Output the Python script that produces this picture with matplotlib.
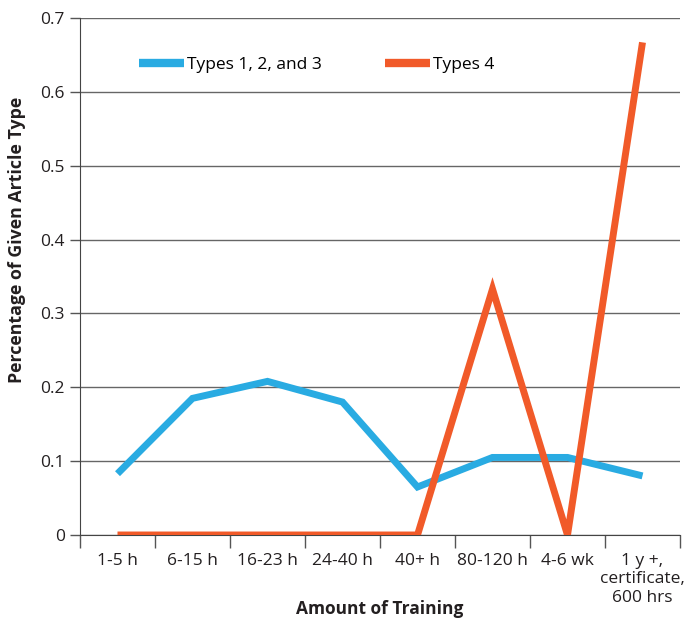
import matplotlib
matplotlib.use("Agg")
import matplotlib.pyplot as plt
import numpy as np

categories = ["1-5 h", "6-15 h", "16-23 h", "24-40 h", "40+ h", "80-120 h", "4-6 wk",
              "1 y +,\ncertificate,\n600 hrs"]
types_123 = [0.083, 0.185, 0.208, 0.180, 0.065, 0.105, 0.105, 0.080]
types_4 = [0.0, 0.0, 0.0, 0.0, 0.0, 0.333, 0.0, 0.667]
yticks = [0, 0.1, 0.2, 0.3, 0.4, 0.5, 0.6, 0.7]
ytick_labels = ["0", "0.1", "0.2", "0.3", "0.4", "0.5", "0.6", "0.7"]

plt.rcParams['font.family'] = ['Open Sans', 'DejaVu Sans']

fig = plt.figure(figsize=(6.85, 6.19), dpi=100)
ax = fig.add_axes([80/685, 1-535/619, 600/685, (535-18)/619])

x = np.arange(len(categories))
blue = "#29ABE2"
orange = "#F15A29"
txt = "#231F20"
ax.plot(x, types_123, color=blue, lw=5, solid_joinstyle='miter', solid_capstyle='butt',
        label="Types 1, 2, and 3", zorder=3)
ax.plot(x, types_4, color=orange, lw=5, solid_joinstyle='miter', solid_capstyle='butt',
        label="Types 4", zorder=4)

ax.set_xlim(-0.5, len(categories) - 0.5)
ax.set_ylim(0, 0.7)
ax.set_yticks(yticks)
ax.set_yticklabels(ytick_labels, fontsize=12.5, color=txt)
ax.yaxis.grid(True, color="#666666", lw=1)
ax.set_axisbelow(True)

ax.set_xticks(x)
ax.set_xticklabels(categories, fontsize=12.5, color=txt, linespacing=1.2, va='top')
ax.set_xticks(np.arange(-0.5, len(categories)), minor=True)
ax.tick_params(axis='x', which='major', length=0, pad=13)
ax.tick_params(axis='x', which='minor', length=9, width=1, color="#555555", direction='out')
ax.tick_params(axis='y', length=7, width=1, color="#555555", pad=4)

for s in ["top", "right"]:
    ax.spines[s].set_visible(False)
ax.spines["left"].set_color("#444444")
ax.spines["bottom"].set_color("#444444")

ax.set_ylabel("Percentage of Given Article Type", fontsize=12.8, fontweight='bold', color=txt)
ax.yaxis.set_label_coords(-0.09, 0.571)
fig.text(380/685, 1/619, "Amount of Training", fontsize=12.5, fontweight='bold', color=txt,
         ha='center', va='bottom')

leg = ax.legend(loc='upper left', bbox_to_anchor=(0.072, 0.955), ncol=2, frameon=False,
                fontsize=12.5, handlelength=2.6, handletextpad=0.2, columnspacing=3.6)
for h in leg.legend_handles:
    h.set_linewidth(6)

fig.savefig("out.png", dpi=100)
